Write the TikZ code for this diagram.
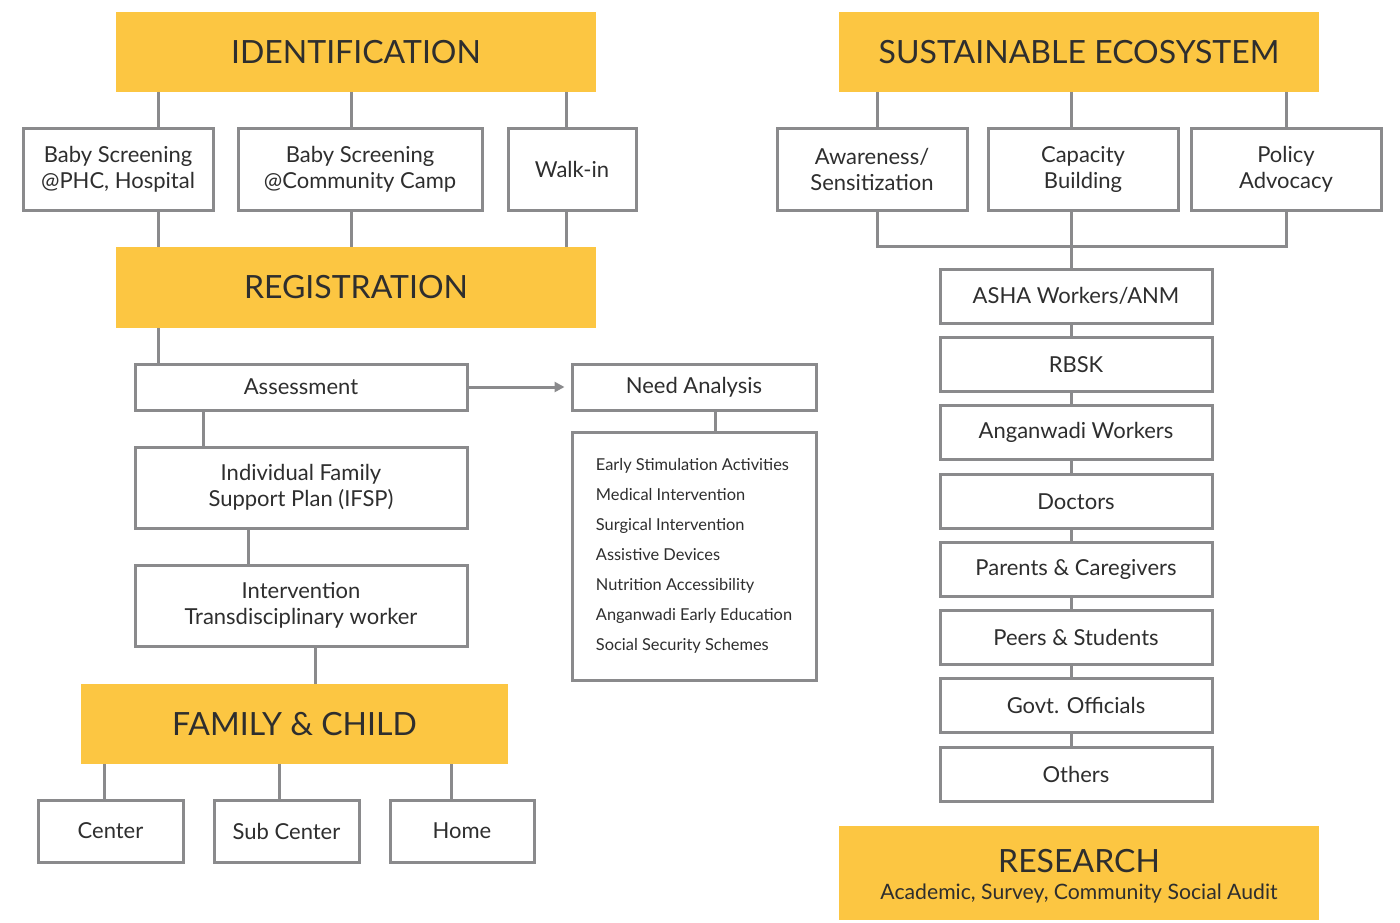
\documentclass[tikz,border=0pt]{standalone}
\usepackage{fontspec}
\setmainfont{Lato}
\usetikzlibrary{calc, arrows.meta}

\definecolor{amber}{HTML}{FCC642}
\definecolor{steel}{HTML}{8A8A8C}
\definecolor{ink}{HTML}{2E2E2E}

\begin{document}
\begin{tikzpicture}[x=.5pt, y=-.5pt]
    \tikzstyle{stage} = [rectangle, fill=amber, text=ink, inner sep=0pt,
        minimum width=240pt, minimum height=40pt, font=\fontsize{16}{19}\selectfont]
    \tikzstyle{item} = [rectangle, draw=steel, line width=1.5pt, fill=white,
        text=ink, inner sep=0pt, align=center, font=\fontsize{11}{13}\selectfont]
    \tikzstyle{member} = [item, minimum width=136pt, minimum height=27pt]
    \tikzstyle{link} = [draw=steel, line width=1.5pt]

    \useasboundingbox (0, 0) rectangle (1400, 922);

    % Identification ------------------------------------
    \node (ident) at (356, 52) [stage] {IDENTIFICATION};
    \node (phc) at (118, 169) [item, minimum width=95pt, minimum height=41pt]
        {Baby Screening\\@PHC, Hospital};
    \node (camp) at (360, 169) [item, minimum width=122pt, minimum height=41pt]
        {Baby Screening\\@Community Camp};
    \node (walk) at (572, 169) [item, minimum width=64pt, minimum height=41pt]
        {Walk-in};
    \node (reg) at (356, 287.5) [stage, minimum height=40.5pt] {REGISTRATION};

    \coordinate (tA) at (158, 0);
    \coordinate (tB) at (351, 0);
    \coordinate (tC) at (566, 0);
    \draw [link] (ident.south -| tA) -- (phc.north -| tA);
    \draw [link] (ident.south -| tB) -- (camp.north -| tB);
    \draw [link] (ident.south -| tC) -- (walk.north -| tC);
    \draw [link] (phc.south -| tA) -- (reg.north -| tA);
    \draw [link] (camp.south -| tB) -- (reg.north -| tB);
    \draw [link] (walk.south -| tC) -- (reg.north -| tC);
    % ---------------------------------------------------

    % Registration chain
    \node (assess) at (301, 387) [item, minimum width=166pt, minimum height=23pt] {Assessment};
    \node (ifsp) at ($(assess) + (0, 100.5)$) [item, minimum width=166pt, minimum height=40.5pt]
        {Individual Family\\Support Plan (IFSP)};
    \node (interv) at ($(ifsp) + (0, 118)$) [item, minimum width=166pt, minimum height=40.5pt]
        {Intervention\\Transdisciplinary worker};
    \node (family) at (294.5, 724) [stage, minimum width=213.5pt] {FAMILY \& CHILD};

    \coordinate (tD) at (203, 0);
    \coordinate (tE) at (248, 0);
    \coordinate (tF) at (315, 0);
    \draw [link] (reg.south -| tA) -- (assess.north -| tA);
    \draw [link] (assess.south -| tD) -- (ifsp.north -| tD);
    \draw [link] (ifsp.south -| tE) -- (interv.north -| tE);
    \draw [link] (interv.south -| tF) -- (family.north -| tF);

    %% Places
    \node (center) at (110.5, 831) [item, minimum width=72.5pt, minimum height=31pt] {Center};
    \node (sub) at ($(center) + (176, 0)$) [item, minimum width=72.5pt, minimum height=31pt] {Sub Center};
    \node (home) at ($(sub) + (175.5, 0)$) [item, minimum width=72pt, minimum height=31pt] {Home};

    \coordinate (tG) at (104, 0);
    \coordinate (tH) at (279, 0);
    \coordinate (tI) at (451, 0);
    \draw [link] (family.south -| tG) -- (center.north -| tG);
    \draw [link] (family.south -| tH) -- (sub.north -| tH);
    \draw [link] (family.south -| tI) -- (home.north -| tI);

    %% Need analysis
    \node (need) at (694, 387) [item, minimum width=122pt, minimum height=23pt] {Need Analysis};
    \node (needs) at ($(need) + (0, 169)$) [item, minimum width=122pt, minimum height=124pt,
        align=left, font=\fontsize{8.2}{15}\selectfont]
        {Early Stimulation Activities\\Medical Intervention\\Surgical Intervention\\
         Assistive Devices\\Nutrition Accessibility\\Anganwadi Early Education\\
         Social Security Schemes};

    \coordinate (tN) at (715, 0);
    \draw [link, -{Triangle[length=5pt, width=5pt]}, shorten >=3pt] (assess) -- (need);
    \draw [link] (need.south -| tN) -- (needs.north -| tN);
    % ---------------------------------------------------

    % Sustainable ecosystem -----------------------------
    \node (eco) at (1079, 52) [stage] {SUSTAINABLE ECOSYSTEM};
    \node (aware) at (872, 169) [item, minimum width=95pt, minimum height=41pt]
        {Awareness/\\Sensitization};
    \node (capac) at ($(aware) + (211, 0)$) [item, minimum width=95pt, minimum height=41pt]
        {Capacity\\Building};
    \node (policy) at ($(capac) + (203, 0)$) [item, minimum width=95pt, minimum height=41pt]
        {Policy\\Advocacy};

    \coordinate (rA) at (877, 0);
    \coordinate (rB) at (1071, 0);
    \coordinate (rC) at (1286, 0);
    \coordinate (bus) at (0, 246);
    \draw [link] (eco.south -| rA) -- (aware.north -| rA);
    \draw [link] (eco.south -| rB) -- (capac.north -| rB);
    \draw [link] (eco.south -| rC) -- (policy.north -| rC);
    \draw [link] (aware.south -| rA) -- (bus -| rA) -- (bus -| rC) -- (policy.south -| rC);

    %% Stakeholders
    \node (asha) at (1076, 296) [member] {ASHA Workers/ANM};
    \node (rbsk) at ($(asha) + (0, 68.5)$) [member] {RBSK};
    \node (awc) at ($(rbsk) + (0, 68)$) [member] {Anganwadi Workers};
    \node (doc) at ($(awc) + (0, 69)$) [member] {Doctors};
    \node (parent) at ($(doc) + (0, 68)$) [member] {Parents \& Caregivers};
    \node (peer) at ($(parent) + (0, 68)$) [member] {Peers \& Students};
    \node (govt) at ($(peer) + (0, 68)$) [member] {Govt. Officials};
    \node (other) at ($(govt) + (0, 68.5)$) [member] {Others};

    \draw [link] (capac.south -| rB) -- (asha.north -| rB);
    \draw [link] (asha.south -| rB) -- (rbsk.north -| rB);
    \draw [link] (rbsk.south -| rB) -- (awc.north -| rB);
    \draw [link] (awc.south -| rB) -- (doc.north -| rB);
    \draw [link] (doc.south -| rB) -- (parent.north -| rB);
    \draw [link] (parent.south -| rB) -- (peer.north -| rB);
    \draw [link] (peer.south -| rB) -- (govt.north -| rB);
    \draw [link] (govt.south -| rB) -- (other.north -| rB);
    % ---------------------------------------------------

    % Research
    \node (research) at (1079, 873) [stage, minimum height=47pt] {};
    \node (restitle) at ($(research) + (0, -12)$) [font=\fontsize{16}{19}\selectfont, text=ink, inner sep=0pt]
        {RESEARCH};
    \node (ressub) at ($(research) + (0, 20)$) [font=\fontsize{10.6}{12}\selectfont, text=ink, inner sep=0pt]
        {Academic, Survey, Community Social Audit};
\end{tikzpicture}
\end{document}
